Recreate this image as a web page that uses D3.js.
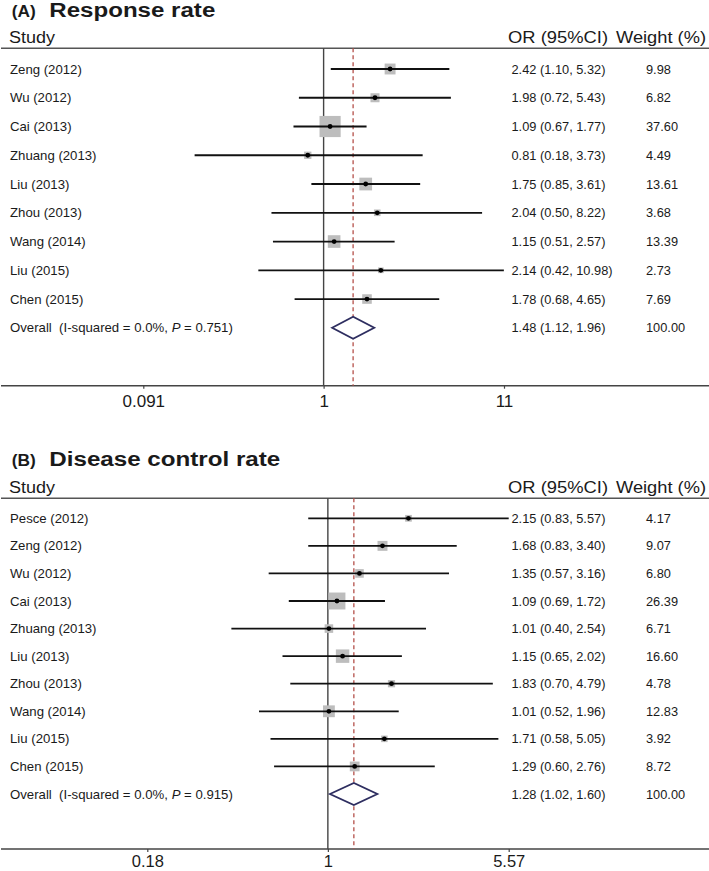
<!DOCTYPE html>
<html>
<head>
<meta charset="utf-8">
<script src="https://cdn.jsdelivr.net/npm/d3@7/dist/d3.min.js"></script>
<style>
  html, body { margin: 0; padding: 0; background: #fff; }
  svg { display: block; font-family: "Liberation Sans", Arial, sans-serif; }
  text { white-space: pre; fill: #1a1a1a; }
</style>
</head>
<body>
<svg id="chart" width="709" height="871"></svg>
<script>
// ---------- Data: Panel A (Response rate) ----------
const studiesA = ["Zeng (2012)", "Wu (2012)", "Cai (2013)", "Zhuang (2013)", "Liu (2013)", "Zhou (2013)", "Wang (2014)", "Liu (2015)", "Chen (2015)"];
const orA      = [2.42, 1.98, 1.09, 0.81, 1.75, 2.04, 1.15, 2.14, 1.78];
const loA      = [1.10, 0.72, 0.67, 0.18, 0.85, 0.50, 0.51, 0.42, 0.68];
const hiA      = [5.32, 5.43, 1.77, 3.73, 3.61, 8.22, 2.57, 10.98, 4.65];
const weightA  = [9.98, 6.82, 37.60, 4.49, 13.61, 3.68, 13.39, 2.73, 7.69];
const overallA = [1.48, 1.12, 1.96, 100.00]; // OR, lo, hi, weight
const hetA     = ["0.0%", "0.751"];
const ticksA   = [0.091, 1, 11];

// ---------- Data: Panel B (Disease control rate) ----------
const studiesB = ["Pesce (2012)", "Zeng (2012)", "Wu (2012)", "Cai (2013)", "Zhuang (2013)", "Liu (2013)", "Zhou (2013)", "Wang (2014)", "Liu (2015)", "Chen (2015)"];
const orB      = [2.15, 1.68, 1.35, 1.09, 1.01, 1.15, 1.83, 1.01, 1.71, 1.29];
const loB      = [0.83, 0.83, 0.57, 0.69, 0.40, 0.65, 0.70, 0.52, 0.58, 0.60];
const hiB      = [5.57, 3.40, 3.16, 1.72, 2.54, 2.02, 4.79, 1.96, 5.05, 2.76];
const weightB  = [4.17, 9.07, 6.80, 26.39, 6.71, 16.60, 4.78, 12.83, 3.92, 8.72];
const overallB = [1.28, 1.02, 1.60, 100.00];
const hetB     = ["0.0%", "0.915"];
const ticksB   = [0.18, 1, 5.57];

const svg = d3.select("#chart");
const f2 = d3.format(".2f");

function panel(cfg) {
  const g = svg.append("g");
  const x = d3.scaleLog().domain([cfg.ticks[0], cfg.ticks[2]]).range(cfg.xRange);
  const nRows = cfg.studies.length + 1;
  const y = d3.scalePoint().domain(d3.range(nRows)).range(cfg.yRange);

  // Title
  g.append("text").attr("x", 11.7).attr("y", cfg.titleY)
    .attr("font-size", 16).attr("font-weight", "bold")
    .attr("textLength", 24).attr("lengthAdjust", "spacingAndGlyphs")
    .text(cfg.tag);
  g.append("text").attr("x", 49.3).attr("y", cfg.titleY)
    .attr("font-size", 20).attr("font-weight", "bold")
    .attr("textLength", cfg.titleLen).attr("lengthAdjust", "spacingAndGlyphs")
    .text(cfg.title);

  // Column headers
  g.append("text").attr("x", 9).attr("y", cfg.headY).attr("font-size", 16)
    .attr("textLength", 46).attr("lengthAdjust", "spacingAndGlyphs").text("Study");
  g.append("text").attr("x", 508).attr("y", cfg.headY).attr("font-size", 16)
    .attr("textLength", 100).attr("lengthAdjust", "spacingAndGlyphs").text("OR (95%CI)");
  g.append("text").attr("x", 616).attr("y", cfg.headY).attr("font-size", 16)
    .attr("textLength", 90).attr("lengthAdjust", "spacingAndGlyphs").text("Weight (%)");

  // Header rule
  g.append("line").attr("x1", 1).attr("x2", 709).attr("y1", cfg.lineY).attr("y2", cfg.lineY)
    .attr("stroke", "#555").attr("stroke-width", 1.4);

  // Axis
  const axisG = g.append("g").attr("transform", `translate(0,${cfg.axisY})`);
  axisG.append("line").attr("x1", 1).attr("x2", 709).attr("stroke", "#444").attr("stroke-width", 1.4);
  const axis = d3.axisBottom(x).tickValues(cfg.ticks).tickFormat(d => String(d)).tickSize(3).tickSizeOuter(0);
  const ag = axisG.append("g").call(axis);
  ag.select(".domain").remove();
  ag.selectAll(".tick line").attr("stroke", "#444").attr("stroke-width", 1.2);
  ag.selectAll(".tick text").attr("font-size", cfg.tickFs).attr("fill", "#1a1a1a")
    .attr("font-family", "\"Liberation Sans\", Arial, sans-serif")
    .attr("y", 0).attr("dy", cfg.tickDy);

  // Null line (OR = 1)
  g.append("line").attr("x1", x(1)).attr("x2", x(1)).attr("y1", cfg.lineY).attr("y2", cfg.axisY)
    .attr("stroke", "#444").attr("stroke-width", 1.4);
  // Overall effect dashed line
  g.append("line").attr("x1", x(cfg.overall[0])).attr("x2", x(cfg.overall[0]))
    .attr("y1", cfg.lineY).attr("y2", cfg.axisY)
    .attr("stroke", "#b5504a").attr("stroke-width", 1.3).attr("stroke-dasharray", "4,3");

  const rows = cfg.studies.map((s, i) => ({ s, or: cfg.or[i], lo: cfg.lo[i], hi: cfg.hi[i], w: cfg.weight[i], i }));

  // Weight squares
  g.selectAll("rect.box").data(rows).join("rect").attr("class", "box")
    .attr("x", d => x(d.or) - cfg.k * Math.sqrt(d.w) / 2)
    .attr("y", d => y(d.i) - cfg.k * Math.sqrt(d.w) / 2)
    .attr("width", d => cfg.k * Math.sqrt(d.w))
    .attr("height", d => cfg.k * Math.sqrt(d.w))
    .attr("fill", "#bdbdbd");
  // CI lines
  g.selectAll("line.ci").data(rows).join("line").attr("class", "ci")
    .attr("x1", d => x(d.lo)).attr("x2", d => x(d.hi))
    .attr("y1", d => y(d.i)).attr("y2", d => y(d.i))
    .attr("stroke", "#111").attr("stroke-width", 1.8);
  // point estimates
  g.selectAll("circle.pt").data(rows).join("circle").attr("class", "pt")
    .attr("cx", d => x(d.or)).attr("cy", d => y(d.i)).attr("r", 2.4).attr("fill", "#000");

  // Labels
  g.selectAll("text.lab").data(rows).join("text").attr("class", "lab")
    .attr("x", 10).attr("y", d => y(d.i) + 4.6).attr("font-size", 13.2).text(d => d.s);
  g.selectAll("text.orv").data(rows).join("text").attr("class", "orv")
    .attr("x", 511.5).attr("y", d => y(d.i) + 4.6).attr("font-size", 12.8)
    .text(d => `${f2(d.or)} (${f2(d.lo)}, ${f2(d.hi)})`);
  g.selectAll("text.wv").data(rows).join("text").attr("class", "wv")
    .attr("x", 646).attr("y", d => y(d.i) + 4.6).attr("font-size", 12.8)
    .text(d => f2(d.w));

  // Overall row
  const oi = cfg.studies.length;
  const yo = y(oi), h = 11;
  const [oor, olo, ohi, ow] = cfg.overall;
  g.append("path")
    .attr("d", `M${x(olo)},${yo} L${x(oor)},${yo - h} L${x(ohi)},${yo} L${x(oor)},${yo + h} Z`)
    .attr("fill", "#fff").attr("stroke", "#2e2e60").attr("stroke-width", 1.8);
  const ot = g.append("text").attr("x", 10).attr("y", yo + 4.6).attr("font-size", 13.2);
  ot.append("tspan").text(`Overall  (I-squared = ${cfg.het[0]}, `);
  ot.append("tspan").attr("font-style", "italic").text("P");
  ot.append("tspan").text(` = ${cfg.het[1]})`);
  g.append("text").attr("x", 511.5).attr("y", yo + 4.6).attr("font-size", 12.8)
    .text(`${f2(oor)} (${f2(olo)}, ${f2(ohi)})`);
  g.append("text").attr("x", 646).attr("y", yo + 4.6).attr("font-size", 12.8).text(f2(ow));
}

panel({
  tag: "(A)", title: "Response rate", titleLen: 166, titleY: 17,
  headY: 42.7, lineY: 48.3, axisY: 385.7, tickDy: 21, tickFs: 17,
  xRange: [143.3, 504], yRange: [69, 327.8], k: 3.45,
  studies: studiesA, or: orA, lo: loA, hi: hiA, weight: weightA,
  overall: overallA, het: hetA, ticks: ticksA
});
panel({
  tag: "(B)", title: "Disease control rate", titleLen: 231, titleY: 466,
  headY: 493.3, lineY: 498.3, axisY: 849, tickDy: 17.5, tickFs: 16.5,
  xRange: [147.3, 508.7], yRange: [518.3, 794], k: 3.3,
  studies: studiesB, or: orB, lo: loB, hi: hiB, weight: weightB,
  overall: overallB, het: hetB, ticks: ticksB
});
</script>
</body>
</html>
